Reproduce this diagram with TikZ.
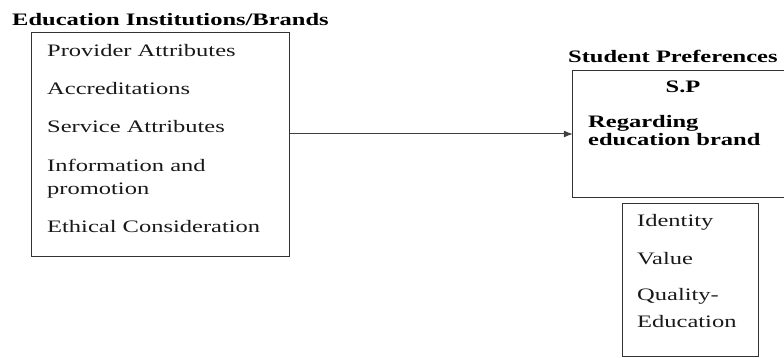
\documentclass[tikz,border=0pt]{standalone}
\usepackage{fontspec}
\setmainfont{Liberation Serif}[FakeStretch=1.4]
\usepackage{tikz}
\usetikzlibrary{arrows.meta}

\begin{document}
\begin{tikzpicture}[x=1pt, y=-1pt,
        box/.style={draw=black!80, line width=1pt, inner sep=0pt},
        item/.style={anchor=base west, inner sep=0pt, text=black!90, font=\fontsize{17.5}{21}\selectfont},
        head/.style={anchor=base west, inner sep=0pt, font=\fontsize{17.5}{21}\selectfont\bfseries},
        link/.style={draw=black!75, line width=1pt, -{Latex[length=9pt, width=7pt]}}]
            \useasboundingbox (0,0) rectangle (784,358);

            % boxes
            \node[box, minimum width=258pt, minimum height=223pt] (inst) at (160,144.5) {};
            \node[inner sep=0pt, minimum width=222pt, minimum height=126pt] (sp) at (684,134) {};
            \draw[black!80, line width=1pt] (sp.north east) -- (sp.north west) -- (sp.south west) -- (sp.south east);
            \node[box, minimum width=136pt, minimum height=152pt] (attr) at (690,280) {};

            % titles
            \node[head] (insttitle) at (12,26) {Education Institutions/Brands};
            \node[head] (sptitle) at (568,63) {Student Preferences};

            % left items
            \node[item] (provider) at (47,57) {Provider Attributes};
            \node[item] (accred) at (47,95) {Accreditations};
            \node[item] (service) at (47,133) {Service Attributes};
            \node[item] (info) at (47,172) {Information and};
            \node[item] (promo) at (47,195) {promotion};
            \node[item] (ethic) at (47,233) {Ethical Consideration};

            % right items
            \node[head, anchor=base] (spname) at (683,93) {S.P};
            \node[head] (regard) at (588,128) {Regarding};
            \node[head] (brand) at (588,146) {education brand};

            \node[item] (identity) at (637,226) {Identity};
            \node[item] (value) at (637,264) {Value};
            \node[item] (quality) at (637,300) {Quality-};
            \node[item] (edu) at (637,327) {Education};

            \draw[link] (inst.east |- sp.west) -- (sp.west);
        \end{tikzpicture}
\end{document}
